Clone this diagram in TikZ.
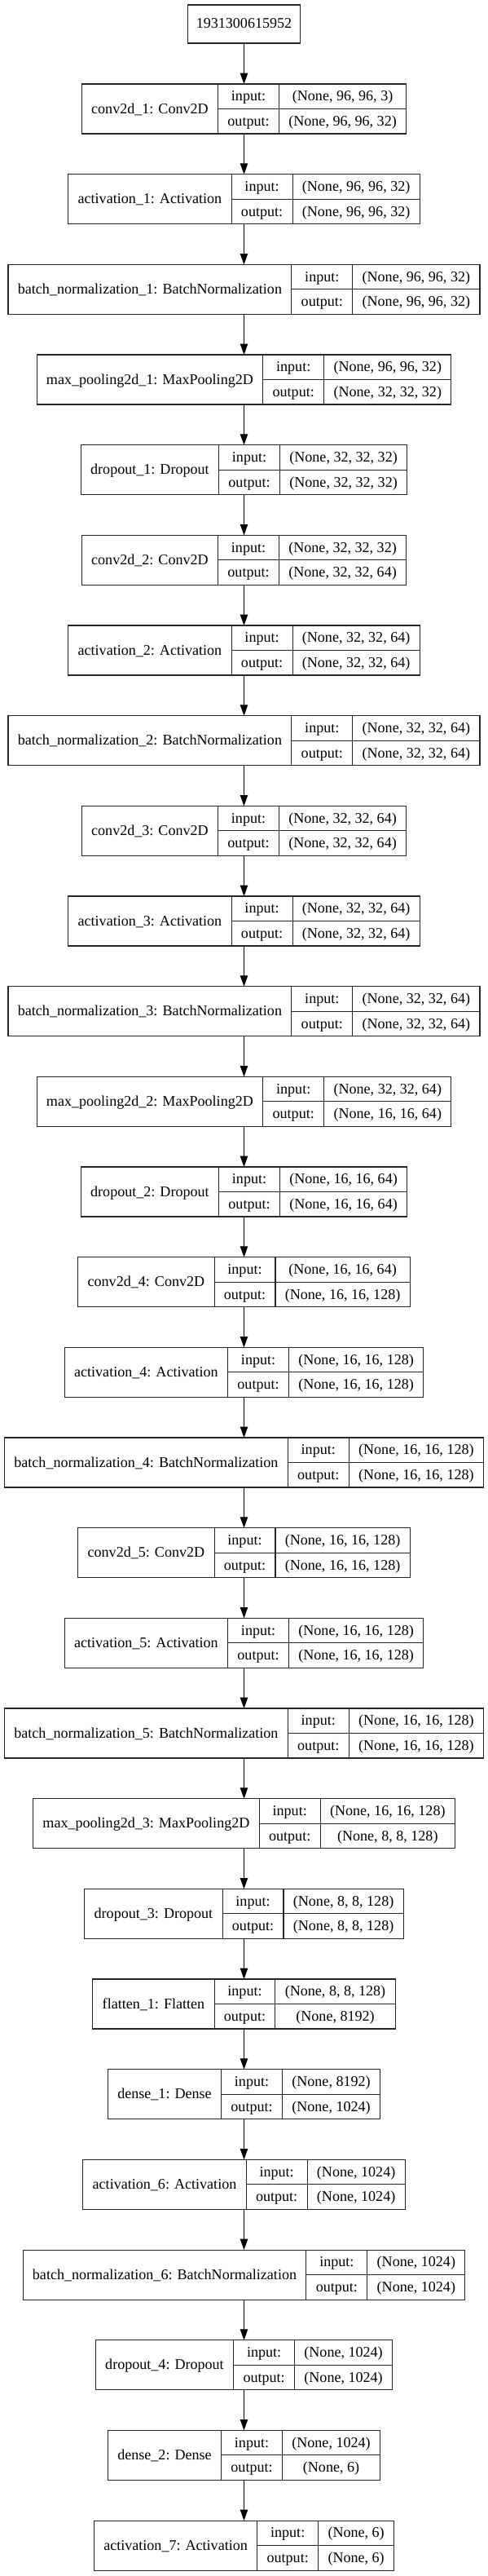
\documentclass[tikz,border=0pt]{standalone}
\usepackage{fontspec}
\setmainfont{Liberation Serif}
\usetikzlibrary{arrows.meta}
\newlength\LwA \newlength\LwB \newlength\LwC \newlength\LwD \newlength\LwT
\newcommand\lf{\fontsize{13.55pt}{16pt}\selectfont}
\tikzset{
  rec/.style={draw=black!85, line width=0.8pt, inner sep=0pt, outer sep=0pt},
  divline/.style={draw=black!85, line width=0.8pt},
  lbl/.style={anchor=base, inner sep=0pt, font=\lf, text=black},
  arr/.style={draw=black, line width=0.8pt, -{Triangle[length=10pt,width=7pt]}}
}
% measuring pass (outside the picture)
\newcommand\measurelayer[5]{%
 \settowidth\LwA{\lf #3}%
 \settowidth\LwC{\lf #4}\settowidth\LwD{\lf #5}%
 \ifdim\LwD>\LwC \LwC=\LwD\fi
 \expandafter\xdef\csname wA#1\endcsname{\the\LwA}%
 \expandafter\xdef\csname wC#1\endcsname{\the\LwC}%
}
% drawing pass (inside the picture)
\newcommand\drawlayer[5]{%
 \LwA=\csname wA#1\endcsname\relax \addtolength\LwA{17.8pt}%
 \LwB=\csname wBB\endcsname\relax \addtolength\LwB{17.8pt}%
 \LwC=\csname wC#1\endcsname\relax \addtolength\LwC{17.8pt}%
 \LwT=\LwA \addtolength\LwT{\LwB}\addtolength\LwT{\LwC}%
 \pgfmathsetmacro\yt{-77.25-83.0*#2}%
 \pgfmathsetmacro\yc{\yt-22.875}%
 \pgfmathsetmacro\yb{\yt-45.75}%
 \pgfmathsetmacro\yra{\yt-11.4375-4.2}%
 \pgfmathsetmacro\yrb{\yt-34.3125-4.2}%
 \pgfmathsetmacro\ycl{\yc-4.3}%
 \pgfmathsetmacro\xl{224.625-0.5*\LwT}%
 \pgfmathsetmacro\xr{224.625+0.5*\LwT}%
 \pgfmathsetmacro\xa{\xl+\LwA}%
 \pgfmathsetmacro\xb{\xa+\LwB}%
 \pgfmathsetmacro\xm{(\xl+\xa)/2}%
 \pgfmathsetmacro\xn{(\xa+\xb)/2}%
 \pgfmathsetmacro\xo{(\xb+\xr)/2}%
 \node[rec, minimum width=\LwT, minimum height=45.75pt] (#1) at (224.625pt,\yc pt) {};
 \draw[divline] (\xa pt,\yt pt) -- (\xa pt,\yb pt) (\xb pt,\yt pt) -- (\xb pt,\yb pt) (\xa pt,\yc pt) -- (\xr pt,\yc pt);
 \node[lbl] (#1n) at (\xm pt,\ycl pt) {#3};
 \node[lbl] (#1i) at (\xn pt,\yra pt) {input:};
 \node[lbl] (#1o) at (\xn pt,\yrb pt) {output:};
 \node[lbl] (#1a) at (\xo pt,\yra pt) {#4};
 \node[lbl] (#1b) at (\xo pt,\yrb pt) {#5};
}
\newcommand\alllayers{%
\layer{L0}{0}{conv2d\_1: Conv2D}{(None, 96, 96, 3)}{(None, 96, 96, 32)}
\layer{L1}{1}{activation\_1: Activation}{(None, 96, 96, 32)}{(None, 96, 96, 32)}
\layer{L2}{2}{batch\_normalization\_1: BatchNormalization}{(None, 96, 96, 32)}{(None, 96, 96, 32)}
\layer{L3}{3}{max\_pooling2d\_1: MaxPooling2D}{(None, 96, 96, 32)}{(None, 32, 32, 32)}
\layer{L4}{4}{dropout\_1: Dropout}{(None, 32, 32, 32)}{(None, 32, 32, 32)}
\layer{L5}{5}{conv2d\_2: Conv2D}{(None, 32, 32, 32)}{(None, 32, 32, 64)}
\layer{L6}{6}{activation\_2: Activation}{(None, 32, 32, 64)}{(None, 32, 32, 64)}
\layer{L7}{7}{batch\_normalization\_2: BatchNormalization}{(None, 32, 32, 64)}{(None, 32, 32, 64)}
\layer{L8}{8}{conv2d\_3: Conv2D}{(None, 32, 32, 64)}{(None, 32, 32, 64)}
\layer{L9}{9}{activation\_3: Activation}{(None, 32, 32, 64)}{(None, 32, 32, 64)}
\layer{L10}{10}{batch\_normalization\_3: BatchNormalization}{(None, 32, 32, 64)}{(None, 32, 32, 64)}
\layer{L11}{11}{max\_pooling2d\_2: MaxPooling2D}{(None, 32, 32, 64)}{(None, 16, 16, 64)}
\layer{L12}{12}{dropout\_2: Dropout}{(None, 16, 16, 64)}{(None, 16, 16, 64)}
\layer{L13}{13}{conv2d\_4: Conv2D}{(None, 16, 16, 64)}{(None, 16, 16, 128)}
\layer{L14}{14}{activation\_4: Activation}{(None, 16, 16, 128)}{(None, 16, 16, 128)}
\layer{L15}{15}{batch\_normalization\_4: BatchNormalization}{(None, 16, 16, 128)}{(None, 16, 16, 128)}
\layer{L16}{16}{conv2d\_5: Conv2D}{(None, 16, 16, 128)}{(None, 16, 16, 128)}
\layer{L17}{17}{activation\_5: Activation}{(None, 16, 16, 128)}{(None, 16, 16, 128)}
\layer{L18}{18}{batch\_normalization\_5: BatchNormalization}{(None, 16, 16, 128)}{(None, 16, 16, 128)}
\layer{L19}{19}{max\_pooling2d\_3: MaxPooling2D}{(None, 16, 16, 128)}{(None, 8, 8, 128)}
\layer{L20}{20}{dropout\_3: Dropout}{(None, 8, 8, 128)}{(None, 8, 8, 128)}
\layer{L21}{21}{flatten\_1: Flatten}{(None, 8, 8, 128)}{(None, 8192)}
\layer{L22}{22}{dense\_1: Dense}{(None, 8192)}{(None, 1024)}
\layer{L23}{23}{activation\_6: Activation}{(None, 1024)}{(None, 1024)}
\layer{L24}{24}{batch\_normalization\_6: BatchNormalization}{(None, 1024)}{(None, 1024)}
\layer{L25}{25}{dropout\_4: Dropout}{(None, 1024)}{(None, 1024)}
\layer{L26}{26}{dense\_2: Dense}{(None, 1024)}{(None, 6)}
\layer{L27}{27}{activation\_7: Activation}{(None, 6)}{(None, 6)}
}
\begin{document}
\let\layer\measurelayer
\alllayers
\settowidth\LwB{\lf output:}\xdef\wBB{\the\LwB}%
\let\layer\drawlayer
\begin{tikzpicture}
\useasboundingbox[fill=white] (0pt,0pt) rectangle (449.25pt,-2369.25pt);
\node[rec, minimum width=103.5pt, minimum height=35.25pt] (inp) at (224.625pt,-22.125pt) {};
\node[lbl] (inpt) at (224.625pt,-26.2pt) {1931300615952};
\alllayers
\draw[arr] (inp.south) -- (L0.north);
\foreach \i in {0,...,26}{\pgfmathtruncatemacro\j{\i+1}\draw[arr] (L\i.south) -- (L\j.north);}
\end{tikzpicture}
\end{document}
